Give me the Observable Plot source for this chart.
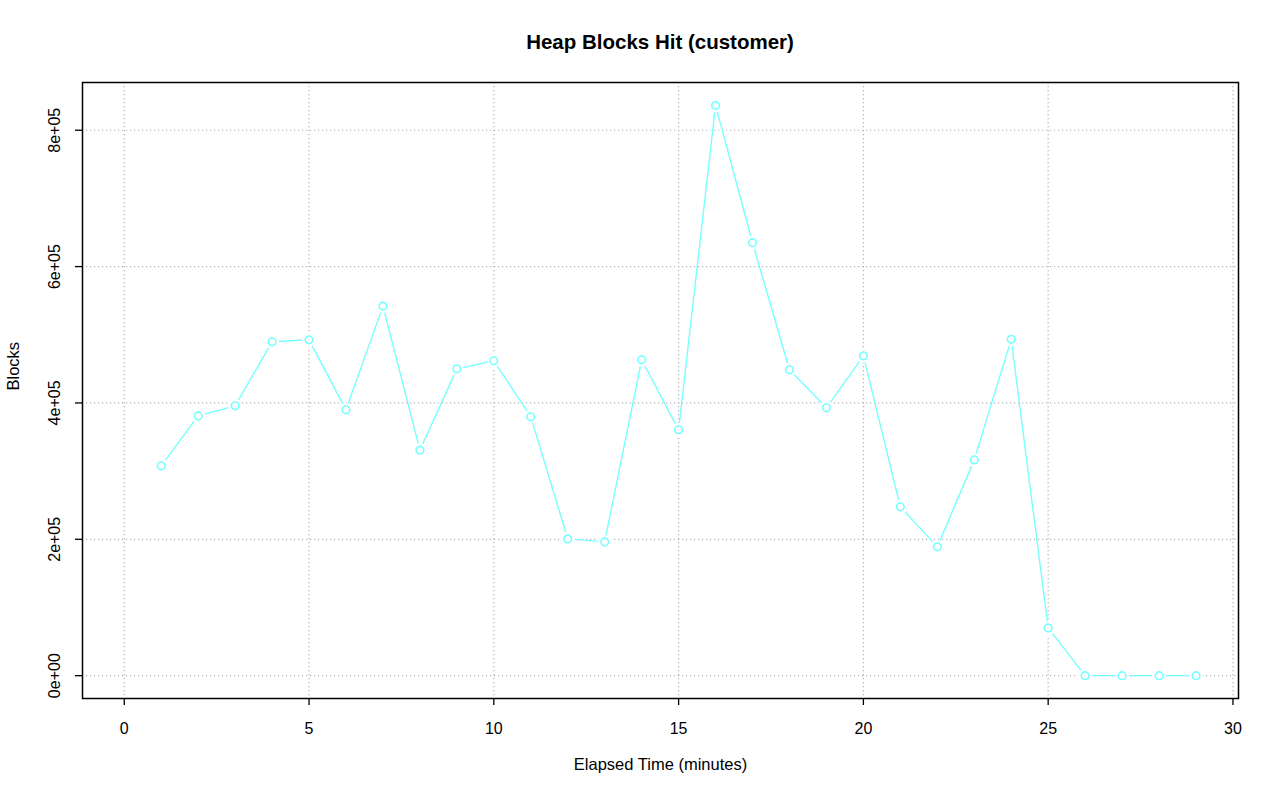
<!DOCTYPE html>
<html>
<head>
<meta charset="utf-8">
<script src="https://cdn.jsdelivr.net/npm/d3@7"></script>
<script src="https://cdn.jsdelivr.net/npm/@observablehq/plot@0.6"></script>
<style>
  html, body { margin: 0; padding: 0; background: #fff; }
  #wrap { width: 1280px; font-family: "Liberation Sans", Arial, Helvetica, sans-serif; }
  #title { height: 60px; position: relative; }
  #title div { position: absolute; left: 0; width: 1320px; text-align: center; top: 30px; font-weight: bold; font-size: 20.5px; line-height: 24px; color: #000; }
</style>
</head>
<body>
<div id="wrap">
  <div id="title"><div>Heap Blocks Hit (customer)</div></div>
  <div id="chart"></div>
</div>
<script>
const minutes = [1,2,3,4,5,6,7,8,9,10,11,12,13,14,15,16,17,18,19,20,21,22,23,24,25,26,27,28,29];
const blocks = [307700,381000,395800,489700,492600,389900,542000,330700,450000,461800,379600,200600,196200,463300,360600,836400,635000,448600,392800,469100,247600,188900,316500,493300,70000,0,0,0,0];
const xTicks = [0,5,10,15,20,25,30];
const yTicks = [0,200000,400000,600000,800000];
const yTickLabels = ["0e+00","2e+05","4e+05","6e+05","8e+05"];

const data = minutes.map((m, i) => ({minute: m, blocks: blocks[i]}));
const cyan = "#77FFFF";
const grid = {stroke: "#b4b4b4", strokeOpacity: 1, strokeDasharray: "1.2,2.8", strokeWidth: 1.2};

const plot = Plot.plot({
  width: 1280,
  height: 741,
  marginLeft: 82,
  marginRight: 42,
  marginTop: 22,
  marginBottom: 103,
  style: {fontFamily: "Liberation Sans, Arial, Helvetica, sans-serif", fontSize: "16px", color: "#000", background: "#fff"},
  x: {domain: [-1.13, 30.15]},
  y: {domain: [-33500, 870000]},
  marks: [
    Plot.gridX(xTicks, grid),
    Plot.gridY(yTicks, grid),
    Plot.line(data, {x: "minute", y: "blocks", stroke: cyan, strokeWidth: 1.4}),
    Plot.dot(data, {x: "minute", y: "blocks", r: 7, fill: "white", stroke: null}),
    Plot.dot(data, {x: "minute", y: "blocks", r: 3.8, fill: "white", stroke: cyan, strokeWidth: 1.6}),
    Plot.axisX(xTicks, {tickSize: 7, tickPadding: 17, label: null, fontSize: 16, stroke: "#000", strokeWidth: 1.3}),
    Plot.axisY(yTicks, {tickSize: 7, tickPadding: 16, tickRotate: -90, label: null, fontSize: 16, stroke: "#000", strokeWidth: 1.3,
      tickFormat: (d) => yTickLabels[yTicks.indexOf(d)]}),
    Plot.frame({stroke: "#000", strokeWidth: 1.5}),
    Plot.text(["Elapsed Time (minutes)"], {frameAnchor: "bottom", dy: 71, fontSize: 16.5, fill: "#000"}),
    Plot.text(["Blocks"], {frameAnchor: "left", dx: -69, rotate: -90, fontSize: 16.5, fill: "#000"})
  ]
});
document.getElementById("chart").appendChild(plot);
</script>
</body>
</html>
